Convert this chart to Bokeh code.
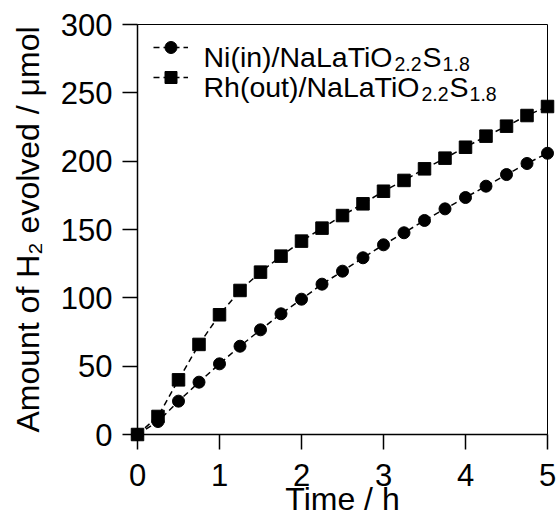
from bokeh.plotting import figure
from bokeh.models import (Range1d, SingleIntervalTicker, Legend, LegendItem, Label)
from bokeh.embed import file_html
from bokeh.resources import INLINE

# ---- data ----
time_h = [0, 0.25, 0.5, 0.75, 1.0, 1.25, 1.5, 1.75, 2.0, 2.25, 2.5,
          2.75, 3.0, 3.25, 3.5, 3.75, 4.0, 4.25, 4.5, 4.75, 5.0]
ni_in = [0, 9.5, 24.4, 38.3, 51.7, 64.6, 76.6, 88.3, 99.0, 110.0, 119.5,
         129.3, 138.8, 147.6, 156.6, 165.1, 173.4, 181.7, 190.2, 198.3, 205.8]
rh_out = [0, 13.2, 40.0, 65.9, 87.6, 105.4, 118.8, 130.5, 141.5, 151.0, 160.2,
          168.8, 178.0, 185.9, 194.4, 202.2, 210.2, 218.3, 225.6, 233.4, 240.0]
legend_parts = [
    [("Ni(in)/NaLaTiO", False), ("2.2", True), ("S", False), ("1.8", True)],
    [("Rh(out)/NaLaTiO", False), ("2.2", True), ("S", False), ("1.8", True)],
]
x_label = "Time / h"
y_label = "Amount of H\u2082 evolved / \u03bcmol"

FONT = "Liberation Sans"
W, H = 560, 523
L, R, T, B = 137, 13, 24, 89

p = figure(width=W, height=H, x_range=Range1d(0, 5), y_range=Range1d(0, 300),
           output_backend="svg", toolbar_location=None,
           min_border_left=L, min_border_right=R, min_border_top=T, min_border_bottom=B)
p.xgrid.visible = False
p.ygrid.visible = False
p.outline_line_color = "black"
p.outline_line_width = 1
p.background_fill_color = "white"

for ax in (p.xaxis[0], p.yaxis[0]):
    ax.axis_line_width = 1.5
    ax.major_tick_line_width = 1.5
    ax.major_tick_in = 0
    ax.major_tick_out = 15
    ax.minor_tick_line_color = None
    ax.major_label_text_font = FONT
    ax.major_label_text_font_size = "31px"
    ax.major_label_text_color = "black"
    ax.axis_label_text_font = FONT
    ax.axis_label_text_font_size = "32px"
    ax.axis_label_text_font_style = "normal"
    ax.axis_label_text_color = "black"
    ax.major_label_standoff = 10

p.xaxis[0].ticker = SingleIntervalTicker(interval=1)
p.yaxis[0].ticker = SingleIntervalTicker(interval=50)
p.xaxis[0].axis_label = x_label
p.yaxis[0].axis_label = y_label
p.xaxis[0].major_label_standoff = 14
p.xaxis[0].axis_label_standoff = -8
p.yaxis[0].axis_label_standoff = 12

l1 = p.line(time_h, ni_in, line_color="black", line_width=1.5, line_dash="6 4")
s1 = p.scatter(time_h, ni_in, marker="circle", size=12, fill_color="black",
               line_color="black", level="overlay")
l2 = p.line(time_h, rh_out, line_color="black", line_width=1.5, line_dash="6 4")
s2 = p.scatter(time_h, rh_out, marker="square", size=12.5, fill_color="black",
               line_color="black", level="overlay")

frame_h = H - T - B
leg = Legend(items=[LegendItem(label=" ", renderers=[l1, s1]),
                    LegendItem(label=" ", renderers=[l2, s2])],
             location=(16, frame_h - 8 - 60), orientation="vertical",
             glyph_width=35, glyph_height=30, label_height=30, label_width=0,
             label_standoff=0, spacing=0, padding=0, margin=0,
             label_text_font_size="10px",
             border_line_color=None, background_fill_alpha=0)
p.add_layout(leg, "center")

# composed legend texts with subscripts (Arial/Liberation advance widths)
adv = {"N": .722, "i": .222, "(": .333, "n": .556, ")": .333, "/": .278,
       "a": .556, "L": .556, "T": .611, "O": .778, "R": .722, "h": .556,
       "o": .556, "u": .556, "t": .278, "S": .667, "2": .556, ".": .278,
       "1": .556, "8": .556}
main_fs, sub_fs = 28.5, 19.5
x0 = 203 - L
for row, parts in enumerate(legend_parts):
    base = 434 - (56 + 30 * row)  # baseline from frame bottom
    x = x0
    for txt, sub in parts:
        fs = sub_fs if sub else main_fs
        p.add_layout(Label(x=x, y=base - (7 if sub else 0), x_units="screen", y_units="screen",
                           text=txt, text_font=FONT, text_font_size=f"{fs}px",
                           text_color="black", text_baseline="alphabetic", text_align="left"))
        x += sum(adv.get(c, .556) for c in txt) * fs + 1

open("out.html", "w").write(file_html(p, INLINE))
